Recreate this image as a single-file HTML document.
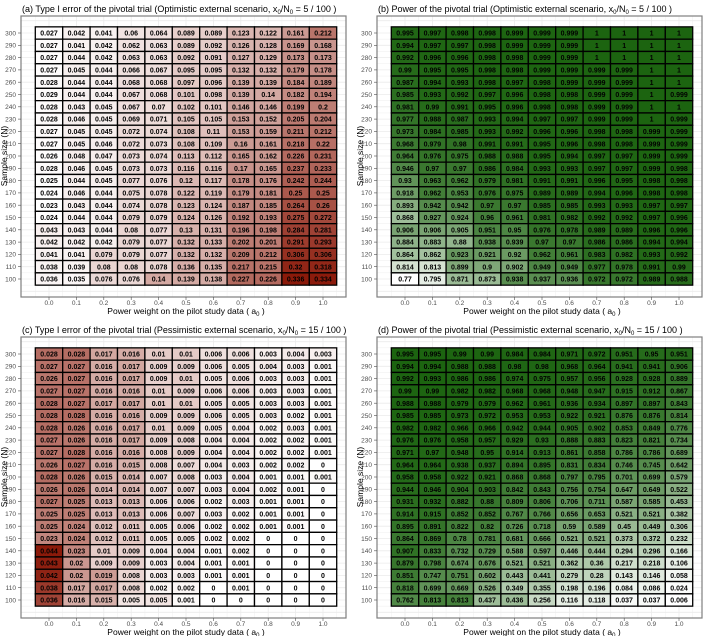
<!DOCTYPE html>
<html><head><meta charset="utf-8"><style>
body{margin:0;background:#fff;}
svg{display:block;font-family:"Liberation Sans",sans-serif;}
</style></head><body>
<svg id="chart" width="708" height="636" viewBox="0 0 708 636"></svg>
<script>
const weights=["0.0","0.1","0.2","0.3","0.4","0.5","0.6","0.7","0.8","0.9","1.0"];
const sizes=[300,290,280,270,260,250,240,230,220,210,200,190,180,170,160,150,140,130,120,110,100];
const typeIOpt=[
[.027,.042,.041,.06,.064,.089,.089,.123,.122,.161,.212],
[.027,.041,.042,.062,.063,.089,.092,.126,.128,.169,.168],
[.027,.044,.042,.063,.063,.092,.091,.127,.129,.173,.173],
[.027,.045,.044,.066,.067,.095,.095,.132,.132,.179,.178],
[.028,.044,.044,.068,.068,.097,.096,.139,.139,.184,.189],
[.029,.044,.044,.067,.068,.101,.098,.139,.14,.182,.194],
[.028,.043,.045,.067,.07,.102,.101,.146,.146,.199,.2],
[.028,.046,.045,.069,.071,.105,.105,.153,.152,.205,.204],
[.027,.045,.045,.072,.074,.108,.11,.153,.159,.211,.212],
[.027,.045,.046,.072,.073,.108,.109,.16,.161,.218,.22],
[.026,.048,.047,.073,.074,.113,.112,.165,.162,.226,.231],
[.028,.046,.045,.073,.073,.116,.116,.17,.165,.237,.233],
[.025,.044,.045,.077,.076,.12,.117,.178,.176,.242,.244],
[.024,.046,.044,.075,.078,.122,.119,.179,.181,.25,.25],
[.023,.043,.044,.074,.078,.123,.124,.187,.185,.264,.26],
[.024,.044,.044,.079,.079,.124,.126,.192,.193,.275,.272],
[.043,.043,.044,.08,.077,.13,.131,.196,.198,.284,.281],
[.042,.042,.042,.079,.077,.132,.133,.202,.201,.291,.293],
[.041,.041,.079,.079,.077,.132,.132,.209,.212,.306,.306],
[.038,.039,.08,.08,.078,.136,.135,.217,.215,.32,.318],
[.036,.035,.076,.076,.14,.139,.138,.227,.226,.336,.334]];
const powerOpt=[
[.995,.997,.998,.998,.999,.999,.999,1,1,1,1],
[.994,.997,.997,.998,.999,.999,.999,1,1,1,1],
[.992,.996,.996,.998,.998,.999,.999,1,1,1,1],
[.99,.995,.995,.998,.998,.999,.999,.999,.999,1,1],
[.987,.994,.993,.998,.997,.998,.999,.999,.999,1,1],
[.985,.993,.992,.997,.996,.998,.998,.999,.999,1,.999],
[.981,.99,.991,.995,.996,.998,.998,.999,.999,1,1],
[.977,.988,.987,.993,.994,.997,.997,.999,.999,1,.999],
[.973,.984,.985,.993,.992,.996,.996,.998,.998,.999,.999],
[.968,.979,.98,.991,.991,.995,.996,.998,.998,.999,.999],
[.964,.976,.975,.988,.988,.995,.994,.997,.997,.999,.999],
[.946,.97,.97,.986,.984,.993,.993,.997,.997,.999,.998],
[.93,.963,.962,.979,.981,.991,.991,.996,.995,.998,.998],
[.918,.962,.953,.976,.975,.989,.989,.994,.996,.998,.998],
[.893,.942,.942,.97,.97,.985,.985,.993,.993,.997,.997],
[.868,.927,.924,.96,.961,.981,.982,.992,.992,.997,.996],
[.906,.906,.905,.951,.95,.976,.978,.989,.989,.996,.996],
[.884,.883,.88,.938,.939,.97,.97,.986,.986,.994,.994],
[.864,.862,.923,.921,.92,.962,.961,.983,.982,.993,.992],
[.814,.813,.899,.9,.902,.949,.949,.977,.978,.991,.99],
[.77,.795,.871,.873,.938,.937,.936,.972,.972,.989,.988]];
const typeIPes=[
[.028,.028,.017,.016,.01,.01,.006,.006,.003,.004,.003],
[.027,.027,.016,.017,.009,.009,.006,.005,.004,.003,.001],
[.026,.027,.016,.017,.009,.01,.005,.006,.003,.003,.001],
[.027,.027,.016,.016,.01,.009,.006,.006,.003,.003,.001],
[.028,.027,.017,.017,.01,.01,.005,.005,.003,.003,.001],
[.028,.028,.016,.016,.009,.009,.006,.005,.003,.002,.001],
[.028,.026,.016,.017,.01,.009,.005,.004,.002,.003,.001],
[.027,.026,.016,.017,.009,.008,.004,.004,.002,.002,.001],
[.027,.028,.016,.016,.008,.009,.004,.004,.002,.002,.001],
[.026,.027,.016,.015,.008,.007,.004,.003,.002,.002,0],
[.028,.026,.015,.014,.007,.008,.003,.004,.001,.001,.001],
[.026,.026,.014,.014,.007,.007,.003,.004,.002,.001,0],
[.027,.025,.013,.013,.006,.006,.002,.003,.001,.001,0],
[.025,.025,.013,.013,.006,.007,.003,.002,.001,.001,0],
[.025,.024,.012,.011,.005,.006,.002,.002,.001,.001,0],
[.023,.024,.012,.011,.005,.005,.002,.002,0,0,0],
[.044,.023,.01,.009,.004,.004,.001,.002,0,0,0],
[.043,.02,.009,.009,.003,.004,.001,.001,0,0,0],
[.042,.02,.019,.008,.003,.003,.001,.001,0,0,0],
[.038,.017,.017,.008,.002,.002,0,.001,0,0,0],
[.036,.016,.015,.005,.005,.001,0,0,0,0,0]];
const powerPes=[
[.995,.995,.99,.99,.984,.984,.971,.972,.951,.95,.951],
[.994,.994,.988,.988,.98,.98,.968,.964,.941,.941,.906],
[.992,.993,.986,.986,.974,.975,.957,.956,.928,.928,.889],
[.99,.99,.982,.982,.968,.968,.948,.947,.915,.912,.867],
[.988,.988,.979,.979,.962,.961,.936,.934,.897,.897,.843],
[.985,.985,.973,.972,.953,.953,.922,.921,.876,.876,.814],
[.982,.982,.966,.966,.942,.944,.905,.902,.853,.849,.776],
[.976,.976,.958,.957,.929,.93,.888,.883,.823,.821,.734],
[.971,.97,.948,.95,.914,.913,.861,.858,.786,.786,.689],
[.964,.964,.938,.937,.894,.895,.831,.834,.746,.745,.642],
[.958,.958,.922,.921,.868,.868,.797,.795,.701,.699,.579],
[.944,.946,.904,.903,.842,.843,.756,.754,.647,.649,.522],
[.931,.932,.882,.88,.809,.806,.706,.711,.587,.585,.453],
[.914,.915,.852,.852,.767,.766,.656,.653,.521,.521,.382],
[.895,.891,.822,.82,.726,.718,.59,.589,.45,.449,.306],
[.864,.869,.78,.781,.681,.666,.521,.521,.373,.372,.232],
[.907,.833,.732,.729,.588,.597,.446,.444,.294,.296,.166],
[.879,.798,.674,.676,.521,.521,.362,.36,.217,.218,.106],
[.851,.747,.751,.602,.443,.441,.279,.28,.143,.146,.058],
[.818,.699,.669,.526,.349,.355,.198,.196,.084,.086,.024],
[.762,.813,.813,.437,.436,.256,.116,.118,.037,.037,.006]];

const NS="http://www.w3.org/2000/svg";
const svg=document.getElementById('chart');
function mk(tag,attrs,parent,text){const e=document.createElementNS(NS,tag);for(const k in attrs)e.setAttribute(k,attrs[k]);if(text!==undefined)e.textContent=text;(parent||svg).appendChild(e);return e;}
function fmt(v){return String(v);}
function lerp(a,b,t){return Math.round(a+(b-a)*t);}
function colorOf(v,min,max,hi){const t=max>min?(v-min)/(max-min):0;return `rgb(${lerp(255,hi[0],t)},${lerp(255,hi[1],t)},${lerp(255,hi[2],t)})`;}

const panels=[
 {id:'a',ox:0,oy:0,data:typeIOpt,hi:[139,26,10],pre:'(a) Type I error of the pivotal trial (Optimistic external scenario, x',num:'5'},
 {id:'b',ox:356,oy:0,data:powerOpt,hi:[28,100,16],pre:'(b) Power of the pivotal trial (Optimistic external scenario, x',num:'5'},
 {id:'c',ox:0,oy:321,data:typeIPes,hi:[139,26,10],pre:'(c) Type I error of the pivotal trial (Pessimistic external scenario, x',num:'15'},
 {id:'d',ox:356,oy:321,data:powerPes,hi:[28,100,16],pre:'(d) Power of the pivotal trial (Pessimistic external scenario, x',num:'15'}];

const colStep=27.4, rowStep=12.3;
panels.forEach(p=>{
  const g=mk('g',{transform:`translate(${p.ox},${p.oy})`});
  
  
  const xS=i=>49+i*colStep;
  const yS=j=>33+j*rowStep;
  const t=mk('text',{x:22,y:12,'font-size':'9','fill':'#000'},g);
  
  
  t.appendChild(document.createTextNode(p.pre));
  mk('tspan',{'font-size':'6',dy:'2'},t,'0');
  mk('tspan',{dy:'-2'},t,'/N');
  mk('tspan',{'font-size':'6',dy:'2'},t,'0');
  mk('tspan',{dy:'-2'},t,' = '+p.num+' / 100 )');
  mk('rect',{x:21,y:16,width:325,height:281,fill:'#fff'},g);
  const grid=mk('g',{stroke:'#ebebeb','stroke-width':'0.6'},g);
  
  
  for(let i=-0.5;i<=11;i+=0.5){const x=xS(i);if(x>21&&x<346)mk('line',{x1:x,x2:x,y1:16,y2:297,'stroke-width':i%1?0.4:0.8},grid);}
  for(let j=-1;j<=21.5;j+=0.5){const y=yS(j);if(y>16&&y<297)mk('line',{x1:21,x2:346,y1:y,y2:y,'stroke-width':j%1?0.4:0.8},grid);}
  let min=Infinity,max=-Infinity;p.data.forEach(r=>r.forEach(v=>{min=Math.min(min,v);max=Math.max(max,v);}));
  p.data.forEach((row,j)=>row.forEach((v,i)=>{
    const r=mk('rect',{x:xS(i)-colStep/2,y:yS(j)-rowStep/2,width:colStep,height:rowStep,fill:colorOf(v,min,max,p.hi),stroke:'#000','stroke-width':'1.3'},g);
    
    
  }));
  p.data.forEach((row,j)=>row.forEach((v,i)=>{
    const tx=mk('text',{x:xS(i),y:yS(j)+2.6,'font-size':'7','font-weight':'bold','text-anchor':'middle',fill:'#000'},g,fmt(v));
    
    
  }));
  const bd=mk('rect',{x:21,y:16,width:325,height:281,fill:'none',stroke:'#7f7f7f','stroke-width':'1.2'},g);
  
  
  sizes.forEach((s,j)=>{
    const l=mk('text',{x:16,y:yS(j)+2.3,'font-size':'6.5','text-anchor':'end',fill:'#4d4d4d'},g,String(s));
    
    
    mk('line',{x1:18,x2:21,y1:yS(j),y2:yS(j),stroke:'#4d4d4d','stroke-width':'0.6'},g);
  });
  weights.forEach((w,i)=>{
    const l=mk('text',{x:xS(i),y:305,'font-size':'6.5','text-anchor':'middle',fill:'#4d4d4d'},g,w);
    
    
    mk('line',{x1:xS(i),x2:xS(i),y1:297,y2:300,stroke:'#4d4d4d','stroke-width':'0.6'},g);
  });
  const xt=mk('text',{x:186,y:314,'font-size':'8.5','text-anchor':'middle',fill:'#000'},g);
  
  
  xt.appendChild(document.createTextNode('Power weight on the pilot study data ( a'));
  mk('tspan',{'font-size':'6',dy:'2'},xt,'0');
  mk('tspan',{dy:'-2'},xt,' )');
  const yt=mk('text',{x:0,y:0,'font-size':'8.5','text-anchor':'middle',fill:'#000',transform:'translate(7,156) rotate(-90)'},g,'Sample size (N)');
  
  
});
</script>
</body></html>
